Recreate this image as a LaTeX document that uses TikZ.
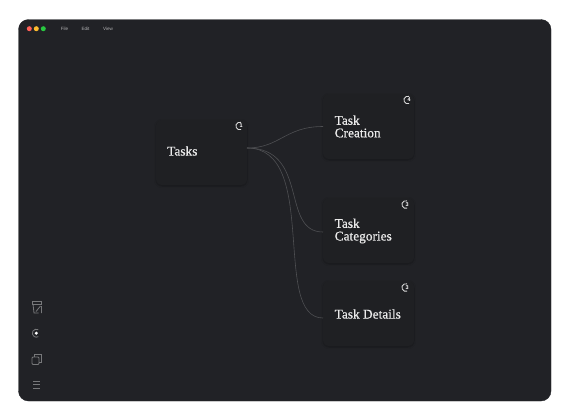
\documentclass[tikz,border=0pt]{standalone}
\usepackage{fontspec}
\usepackage{xcolor}
\usetikzlibrary{calc, positioning, shadows.blur}
\setmainfont{Liberation Serif}
\setsansfont{Liberation Sans}
\newfontfamily\cardfont[FakeBold=0.6]{Liberation Serif}
\definecolor{winbg}{HTML}{212226}
\definecolor{cardbg}{HTML}{1F2023}
\definecolor{edgecol}{HTML}{4E4F52}
\definecolor{iconcol}{HTML}{77787A}
\definecolor{menucol}{HTML}{B0B0B2}
\definecolor{dotred}{HTML}{FF5F57}
\definecolor{dotamb}{HTML}{FEBC2E}
\definecolor{dotgrn}{HTML}{28C840}

\begin{document}
\begin{tikzpicture}[x=1bp, y=-1bp, font=\rmfamily]
		\tikzstyle{card} = [fill=cardbg, rounded corners=6bp, minimum width=91bp, minimum height=65bp, inner sep=0pt, blur shadow={shadow blur steps=5, shadow xshift=0bp, shadow yshift=-1bp, shadow opacity=30}]
		\tikzstyle{cardtext} = [text=white!92!black, font=\cardfont\fontsize{13.4}{12.6}\selectfont, align=left, anchor=west, inner sep=0pt]
		\tikzstyle{badge} = [inner sep=0pt, text=white, font=\sffamily\bfseries\fontsize{5.5}{5.5}\selectfont]
		\tikzstyle{menu} = [text=menucol, font=\sffamily\fontsize{4.6}{5}\selectfont, inner sep=0pt]
		\tikzstyle{dot} = [circle, minimum size=5bp, inner sep=0pt]
		\tikzstyle{wire} = [edgecol, line width=0.6bp]
		\tikzstyle{tool} = [iconcol, line width=0.8bp]
		
		\useasboundingbox (0, 0) rectangle (573, 419);
		\fill[white] (0, 0) rectangle (573, 419);
		\draw[winbg, fill=winbg, rounded corners=10bp] (18.5, 19.5) rectangle (551, 401);
		
		\node[dot, fill=dotred]	at (29.3, 28.7)	(reddot)	{};
		\node[dot, fill=dotamb]	at (36.3, 28.7)	(ambdot)	{};
		\node[dot, fill=dotgrn]	at (43.3, 28.7)	(grndot)	{};
		\node[menu]	at (64.5, 29)	(file)	{File};
		\node[menu]	at (85.5, 29)	(edit)	{Edit};
		\node[menu]	at (108, 29)	(view)	{View};
		
		\node[card]	at (201.5, 152.5)	(tasks)		{};
		\node[card]	at (368.5, 126.5)	(creation)	{};
		\node[card]	at (368.5, 230.5)	(categories)	{};
		\node[card]	at (368.5, 313.5)	(details)	{};
		
		\coordinate (out) at (247, 148);
		\coordinate (increation) at (323, 126.5);
		\coordinate (incategories) at (323, 232);
		\coordinate (indetails) at (323, 318);
		
		\node[cardtext]	at (167, 151)	(taskst)	{Tasks};
		\node[cardtext]	at (334.5, 126.5)	(creationt)	{Task\\Creation};
		\node[cardtext]	at (334.5, 231)	(categoriest)	{Task\\Categories};
		\node[cardtext]	at (334.5, 314)	(detailst)	{Task Details};
		
		\node[badge]	at (241.2, 126)	(one)	{1};
		\node[badge]	at (409.2, 100)	(four)	{4};
		\node[badge]	at (407.2, 204.5)	(three)	{3};
		\node[badge]	at (407.2, 287.5)	(threeb)	{3};
		
		\foreach \n in {one, four, three, threeb}
			\draw[white!85!black, line width=0.9bp] ($(\n.center)+(-0.2, -3.6)$) arc (-70:-290:3.8);
		
		\draw [wire] (out) .. controls (280, 148) and (285, 126.5) .. (increation);
		\draw [wire] (out) .. controls (310, 148) and (280, 232) .. (incategories);
		\draw [wire] (out) .. controls (320, 148) and (271, 318) .. (indetails);
		
		% side icons
		\draw[tool] (32, 301.5) -- (41.5, 301.5) -- (41.5, 304) -- (32, 304) -- cycle;
		\draw[tool] (33, 304) -- (34, 313) -- (38.5, 313) (41.5, 306) -- (41.5, 313);
		\draw[tool] (36, 311.5) -- (40.5, 306);
		\draw[tool] (38.3, 329.7) arc (-60:-300:4);
		\fill[white] (36.3, 333.2) circle (1.7);
		\draw[tool, rounded corners=1bp] (32, 357) rectangle (39, 364.5);
		\draw[tool] (34.5, 357) -- (34.5, 354) -- (41.5, 354) -- (41.5, 362) -- (39, 362);
		\draw[tool] (33, 381) -- (40, 381) (33, 384.5) -- (40, 384.5) (33, 388) -- (40, 388);
		
	\end{tikzpicture}
\end{document}
